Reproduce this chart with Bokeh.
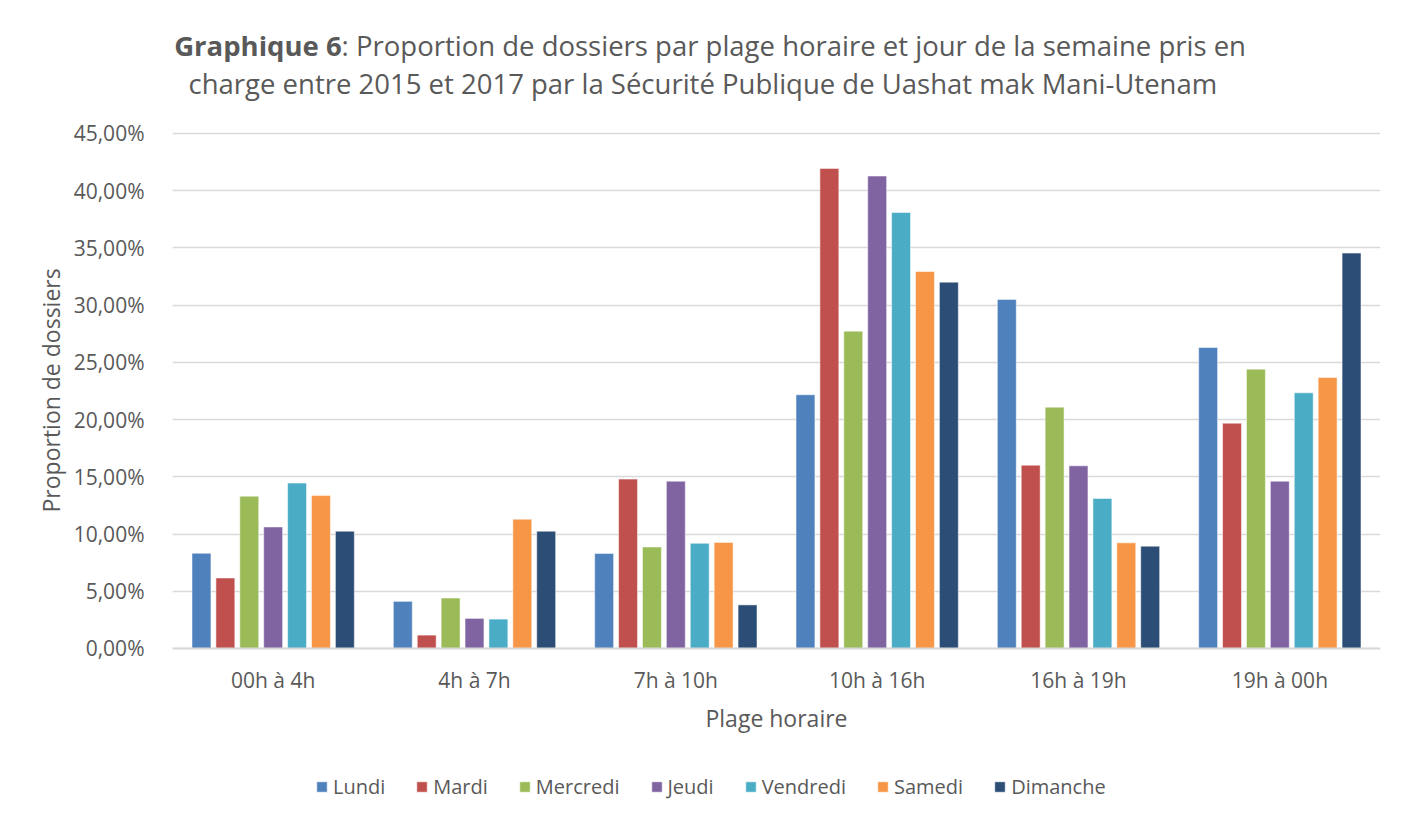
from bokeh.plotting import figure
from bokeh.models import (ColumnDataSource, FactorRange, FixedTicker, Legend, LegendItem, Label,
                          Range1d, Title)
from bokeh.transform import dodge
from bokeh.embed import file_html
from bokeh.resources import INLINE

categories = ["00h à 4h", "4h à 7h", "7h à 10h", "10h à 16h", "16h à 19h", "19h à 00h"]
days = ["Lundi", "Mardi", "Mercredi", "Jeudi", "Vendredi", "Samedi", "Dimanche"]

lundi = [8.32, 4.12, 8.31, 22.17, 30.50, 26.30]
mardi = [6.16, 1.17, 14.80, 41.95, 16.02, 19.69]
mercredi = [13.31, 4.41, 8.87, 27.73, 21.09, 24.41]
jeudi = [10.62, 2.63, 14.62, 41.28, 15.96, 14.62]
vendredi = [14.45, 2.57, 9.19, 38.10, 13.11, 22.34]
samedi = [13.36, 11.30, 9.27, 32.94, 9.23, 23.68]
dimanche = [10.25, 10.25, 3.81, 32.01, 8.94, 34.55]

y_ticks = [0, 5, 10, 15, 20, 25, 30, 35, 40, 45]
y_tick_labels = ["0,00%", "5,00%", "10,00%", "15,00%", "20,00%", "25,00%",
                 "30,00%", "35,00%", "40,00%", "45,00%"]

title_bold = "Graphique 6"
title_rest = ": Proportion de dossiers par plage horaire et jour de la semaine pris en"
title_line2 = "charge entre 2015 et 2017  par la Sécurité Publique de Uashat mak Mani-Utenam"

series = [lundi, mardi, mercredi, jeudi, vendredi, samedi, dimanche]
colors = ["#4F81BD", "#C0504D", "#9BBB59", "#8064A2", "#4BACC6", "#F79646", "#2C4D75"]

FONT = "Open Sans"
TXT = "#595959"

W, H = 1400, 812
p = figure(x_range=FactorRange(factors=categories), y_range=Range1d(-14.33, 56.62),
           width=W, height=H, output_backend="svg", toolbar_location=None,
           min_border_left=172, min_border_right=20, min_border_top=0, min_border_bottom=0)
p.outline_line_color = None
p.background_fill_color = "white"
p.border_fill_color = "white"

pitch = 0.1187
bw = 0.094
renderers = []
for j, (name, vals, col) in enumerate(zip(days, series, colors)):
    src = ColumnDataSource(dict(cat=categories, val=vals))
    r = p.vbar(x=dodge("cat", (j - 3) * pitch, range=p.x_range), top="val", width=bw,
               source=src, fill_color=col, line_color="white", line_width=1, line_alpha=0.5)
    renderers.append((name, r))

p.yaxis.ticker = FixedTicker(ticks=y_ticks)
p.yaxis.major_label_overrides = {t: l for t, l in zip(y_ticks, y_tick_labels)}
p.yaxis.axis_line_color = None
p.yaxis.major_tick_line_color = None
p.yaxis.minor_tick_line_color = None
p.yaxis.major_label_text_font = FONT
p.yaxis.major_label_text_font_size = "21px"
p.yaxis.major_label_text_color = TXT
p.yaxis.major_label_standoff = 22

p.add_layout(Title(text="Proportion de dossiers", align="left", offset=300,
                   text_font=FONT, text_font_size="23px", text_font_style="normal",
                   text_color=TXT, standoff=8), "left")

p.xaxis.fixed_location = 0
p.xaxis.axis_line_color = "#D9D9D9"
p.xaxis.axis_line_width = 2
p.xaxis.major_tick_line_color = None
p.xaxis.minor_tick_line_color = None
p.xaxis.major_label_text_font = FONT
p.xaxis.major_label_text_font_size = "21px"
p.xaxis.major_label_text_color = TXT
p.xaxis.major_label_standoff = 12
p.xaxis.axis_label = "Plage horaire"
p.xaxis.axis_label_text_font = FONT
p.xaxis.axis_label_text_font_size = "23px"
p.xaxis.axis_label_text_font_style = "normal"
p.xaxis.axis_label_text_color = TXT
p.xaxis.axis_label_standoff = 4

p.xgrid.grid_line_color = None
p.ygrid.grid_line_color = "#D9D9D9"
p.ygrid.grid_line_width = 1.5

legend = Legend(items=[LegendItem(label=n, renderers=[r]) for n, r in renderers],
                orientation="horizontal", location=(143, 12),
                label_text_font=FONT, label_text_font_size="20px", label_text_color=TXT,
                glyph_width=13, glyph_height=13, label_standoff=5, spacing=30,
                border_line_color=None, background_fill_alpha=0, padding=0, margin=0)
p.add_layout(legend, "center")

x_split = 0.84
p.add_layout(Label(x=x_split, y=52.69, text=title_bold, text_align="right", text_baseline="middle",
                   text_font=FONT, text_font_size="27.5px", text_font_style="bold", text_color=TXT))
p.add_layout(Label(x=x_split, y=52.69, text=title_rest,
                   text_align="left", text_baseline="middle",
                   text_font=FONT, text_font_size="27.5px", text_color=TXT))
p.add_layout(Label(x=2.652, y=49.37, text=title_line2,
                   text_align="center", text_baseline="middle",
                   text_font=FONT, text_font_size="27.5px", text_color=TXT))

open("out.html", "w").write(file_html(p, INLINE))
